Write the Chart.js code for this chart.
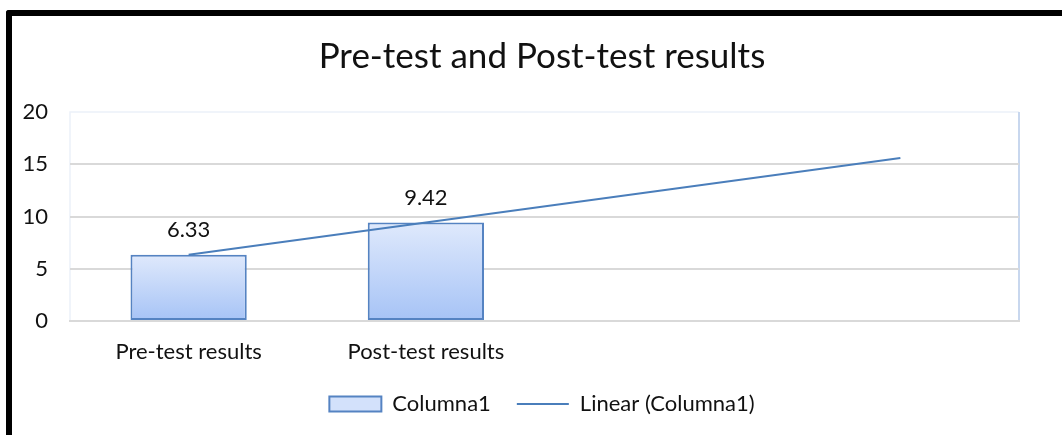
<!DOCTYPE html>
<html>
<head>
<meta charset="utf-8">
<script src="https://cdn.jsdelivr.net/npm/chart.js@4.4.0/dist/chart.umd.min.js"></script>
<style>
  html, body { margin: 0; padding: 0; background: #fff; overflow: hidden; }
  #wrap { position: relative; width: 1062px; height: 435px; overflow: hidden; }
  #frame {
    position: absolute; left: 6px; top: 10px; width: 1100px; height: 500px;
    border-top: 6px solid #000; border-left: 6px solid #000; border-top-left-radius: 3px;
    pointer-events: none;
  }
  canvas { position: absolute; left: 0; top: 0; }
</style>
</head>
<body>
<div id="wrap">
  <!-- the original chart runs past the right edge of the picture -->
  <canvas id="myChart" width="1084" height="435"></canvas>
  <div id="frame"></div>
</div>
<script>
const categorias = ['Pre-test results', 'Post-test results', '', ''];
const columna1 = [6.33, 9.42, null, null];
const tendencia = [6.33, 9.42, 12.51, 15.6]; // linear trendline as drawn
const yTicks = [0, 5, 10, 15, 20];

const fuente = 'Lato, "Open Sans", sans-serif';

// gradient per bar, light at top and darker blue at the bottom
function barGradient(context) {
    const chart = context.chart;
    const area = chart.chartArea;
    if (!area || context.type !== 'data' || context.raw == null) return '#c9dcfb';
    const y = chart.scales.y;
    const top = y.getPixelForValue(context.raw);
    const bottom = y.getPixelForValue(0);
    if (!isFinite(top) || !isFinite(bottom)) return '#c9dcfb';
    const g = chart.ctx.createLinearGradient(0, top, 0, bottom);
    g.addColorStop(0, '#dfe9fc');
    g.addColorStop(1, '#a6c3f6');
    return g;
}

// faint outline of the plot area, right side a bit bluer
const plotFrame = {
    id: 'plotFrame',
    beforeDraw(chart) {
        const a = chart.chartArea;
        const ctx = chart.ctx;
        ctx.save();
        ctx.lineWidth = 1.5;
        ctx.strokeStyle = '#ecf1f9';
        ctx.beginPath();
        ctx.moveTo(a.left, a.bottom);
        ctx.lineTo(a.left, a.top);
        ctx.lineTo(a.right, a.top);
        ctx.stroke();
        ctx.strokeStyle = '#c8d7ee';
        ctx.lineWidth = 2;
        ctx.beginPath();
        ctx.moveTo(a.right, a.top);
        ctx.lineTo(a.right, a.bottom);
        ctx.stroke();
        ctx.restore();
    }
};

const etiquetas = {
    id: 'etiquetas',
    afterDatasetsDraw(chart) {
        const ctx = chart.ctx;
        const meta = chart.getDatasetMeta(0);
        ctx.save();
        ctx.font = '22px ' + fuente;
        ctx.fillStyle = '#111';
        ctx.textAlign = 'center';
        ctx.textBaseline = 'middle';
        meta.data.forEach(function (bar, i) {
            if (columna1[i] == null) return;
            ctx.fillText(columna1[i].toFixed(2), bar.x, bar.y - 25);
        });
        ctx.restore();
    }
};

const ctx = document.getElementById('myChart').getContext('2d');
const myChart = new Chart(ctx, {
    type: 'bar',
    data: {
        labels: categorias,
        datasets: [{
            label: 'Columna1',
            data: columna1,
            backgroundColor: barGradient,
            borderColor: '#5583c2',
            borderWidth: 2,
            borderSkipped: false,
            barPercentage: 0.49,
            categoryPercentage: 1,
            order: 2
        }, {
            type: 'line',
            label: 'Linear (Columna1)',
            data: tendencia,
            borderColor: '#4a7ebb',
            backgroundColor: '#4a7ebb',
            borderWidth: 2,
            pointRadius: 0,
            tension: 0,
            order: 1
        }]
    },
    options: {
        responsive: false,
        animation: false,
        layout: { padding: { left: 0, right: 0, top: 0, bottom: 10 } },
        plugins: {
            title: {
                display: true,
                text: 'Pre-test and Post-test results',
                color: '#111',
                font: { family: fuente, size: 35, weight: 'normal' },
                padding: { top: 36, bottom: 34 }
            },
            legend: {
                position: 'bottom',
                labels: {
                    color: '#111',
                    font: { family: fuente, size: 22 },
                    usePointStyle: true,
                    pointStyleWidth: 52,
                    boxHeight: 15,
                    padding: 26,
                    generateLabels(chart) {
                        return chart.data.datasets.map(function (ds, i) {
                            const esLinea = ds.type === 'line';
                            return {
                                text: ds.label,
                                datasetIndex: i,
                                fillStyle: esLinea ? '#4a7ebb' : '#d3e1fb',
                                strokeStyle: esLinea ? '#4a7ebb' : '#5583c2',
                                lineWidth: 2,
                                pointStyle: esLinea ? 'line' : 'rect',
                                fontColor: '#111',
                                hidden: false
                            };
                        });
                    }
                }
            },
            tooltip: { enabled: false }
        },
        scales: {
            x: {
                grid: { display: false },
                border: { color: '#d9d9d9', width: 2 },
                afterFit(scale) { scale.height = 46; },
                ticks: {
                    color: '#111',
                    padding: 10,
                    maxRotation: 0,
                    autoSkip: false,
                    font: { family: fuente, size: 22 }
                }
            },
            y: {
                min: yTicks[0],
                max: yTicks[yTicks.length - 1],
                afterBuildTicks(scale) {
                    scale.ticks = yTicks.map(function (v) { return { value: v }; });
                },
                afterFit(scale) { scale.width = 70; },
                grid: {
                    color: function (c) {
                        return c.tick && c.tick.value === yTicks[yTicks.length - 1] ? 'rgba(0,0,0,0)' : '#d9d9d9';
                    },
                    lineWidth: 2,
                    drawTicks: false
                },
                border: { display: false },
                ticks: {
                    color: '#111',
                    padding: 22,
                    font: { family: fuente, size: 22 }
                }
            },
            // empty right-hand space of the original chart
            derecha: {
                type: 'linear',
                position: 'right',
                afterFit(scale) { scale.width = 65; },
                grid: { display: false },
                border: { display: false },
                ticks: { display: false }
            }
        }
    },
    plugins: [plotFrame, etiquetas]
});
</script>
</body>
</html>
